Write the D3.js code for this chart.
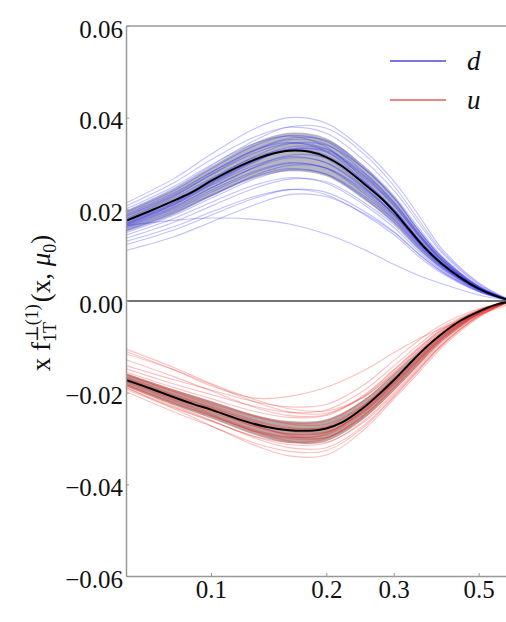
<!DOCTYPE html>
<html>
<head>
<meta charset="utf-8">
<script src="https://cdn.jsdelivr.net/npm/d3@7/dist/d3.min.js"></script>
<style>
  html, body { margin: 0; padding: 0; background: #fff; }
  svg { display: block; }
  text { font-family: "Liberation Serif", "DejaVu Serif", serif; fill: #111; white-space: pre; }
</style>
</head>
<body>
<svg id="chart" width="506" height="622"></svg>
<script>
// ---- data -------------------------------------------------------------
// x grid of the replica curves
const REP_X = [0.06, 0.08, 0.1, 0.13, 0.16, 0.2, 0.25, 0.3, 0.35, 0.4, 0.5, 0.6];

// d-quark replicas
const D_REPLICAS = [
  [.0214, .0267, .0320, .0376, .0400, .0388, .0330, .0262, .0185, .0115, .0040, .0003],
  [.0207, .0258, .0308, .0358, .0379, .0366, .0308, .0242, .0168, .0106, .0036, .0002],
  [.0196, .0246, .0295, .0350, .0380, .0377, .0322, .0252, .0175, .0110, .0038, .0003],
  [.0193, .0241, .0288, .0339, .0361, .0348, .0290, .0225, .0152, .0096, .0032, .0002],
  [.0186, .0233, .0280, .0330, .0355, .0350, .0295, .0230, .0158, .0099, .0033, .0002],
  [.0184, .0230, .0275, .0323, .0344, .0332, .0274, .0210, .0141, .0088, .0029, .0002],
  [.0179, .0224, .0268, .0313, .0330, .0311, .0251, .0190, .0126, .0080, .0026, .0002],
  [.0172, .0215, .0258, .0306, .0331, .0325, .0270, .0208, .0140, .0088, .0029, .0002],
  [.0168, .0212, .0256, .0305, .0329, .0318, .0262, .0201, .0134, .0084, .0028, .0002],
  [.0168, .0210, .0252, .0296, .0315, .0301, .0247, .0188, .0125, .0079, .0026, .0002],
  [.0165, .0206, .0247, .0291, .0312, .0302, .0249, .0191, .0127, .0080, .0026, .0002],
  [.0161, .0201, .0241, .0283, .0302, .0289, .0236, .0180, .0120, .0075, .0025, .0002],
  [.0158, .0197, .0237, .0280, .0300, .0290, .0240, .0184, .0123, .0078, .0026, .0002],
  [.0154, .0193, .0231, .0271, .0289, .0276, .0226, .0172, .0114, .0072, .0024, .0002],
  [.0149, .0187, .0224, .0266, .0286, .0277, .0230, .0177, .0118, .0075, .0025, .0002],
  [.0144, .0180, .0215, .0253, .0269, .0257, .0211, .0161, .0107, .0067, .0022, .0002],
  [.0137, .0172, .0207, .0246, .0266, .0260, .0216, .0167, .0111, .0070, .0023, .0002],
  [.0130, .0162, .0194, .0228, .0243, .0232, .0190, .0145, .0096, .0061, .0020, .0001],
  [.0123, .0155, .0187, .0224, .0243, .0237, .0197, .0152, .0102, .0065, .0022, .0002],
  [.0201, .0250, .0297, .0344, .0360, .0336, .0266, .0198, .0130, .0082, .0027, .0002],
  [.0166, .0210, .0254, .0303, .0331, .0328, .0275, .0213, .0143, .0090, .0030, .0002],
  [.0189, .0236, .0281, .0329, .0346, .0326, .0262, .0196, .0126, .0078, .0026, .0002],
  [.0110, .0140, .0172, .0210, .0232, .0228, .0192, .0150, .0101, .0064, .0021, .0001],
  [.0175, .0220, .0265, .0315, .0343, .0340, .0290, .0227, .0153, .0096, .0032, .0003],
  [.0180, .0228, .0276, .0328, .0352, .0342, .0282, .0216, .0145, .0091, .0030, .0002],
  [.0163, .0204, .0246, .0292, .0318, .0312, .0260, .0200, .0134, .0084, .0028, .0002],
  [.0152, .0190, .0229, .0274, .0296, .0290, .0244, .0189, .0128, .0081, .0027, .0002],
  [.0170, .0214, .0259, .0309, .0336, .0331, .0279, .0216, .0146, .0092, .0031, .0002],
  [.0165, .0176, .0181, .0178, .0168, .0146, .0113, .0080, .0055, .0038, .0013, .0001]
];

// u-quark replicas
const U_REPLICAS = [
  [-.0198, -.0242, -.0273, -.0310, -.0328, -.0326, -.0276, -.0210, -.0150, -.0098, -.0034, -.0002],
  [-.0189, -.0235, -.0272, -.0315, -.0338, -.0336, -.0282, -.0214, -.0155, -.0102, -.0036, -.0002],
  [-.0189, -.0231, -.0261, -.0296, -.0313, -.0310, -.0262, -.0200, -.0142, -.0092, -.0032, -.0002],
  [-.0182, -.0223, -.0251, -.0284, -.0300, -.0298, -.0250, -.0190, -.0134, -.0087, -.0030, -.0002],
  [-.0179, -.0218, -.0248, -.0285, -.0305, -.0308, -.0265, -.0204, -.0146, -.0096, -.0033, -.0002],
  [-.0175, -.0214, -.0242, -.0274, -.0290, -.0287, -.0240, -.0180, -.0126, -.0081, -.0027, -.0001],
  [-.0169, -.0206, -.0232, -.0263, -.0278, -.0274, -.0228, -.0170, -.0116, -.0074, -.0024, -.0001],
  [-.0165, -.0203, -.0231, -.0265, -.0284, -.0285, -.0242, -.0182, -.0128, -.0082, -.0028, -.0001],
  [-.0162, -.0197, -.0223, -.0252, -.0266, -.0262, -.0218, -.0160, -.0108, -.0068, -.0022, -.0001],
  [-.0158, -.0194, -.0220, -.0251, -.0268, -.0269, -.0228, -.0170, -.0117, -.0075, -.0025, -.0001],
  [-.0155, -.0189, -.0213, -.0241, -.0254, -.0250, -.0208, -.0152, -.0102, -.0064, -.0021, -.0001],
  [-.0148, -.0181, -.0204, -.0230, -.0243, -.0238, -.0196, -.0142, -.0094, -.0058, -.0019, -.0001],
  [-.0141, -.0172, -.0194, -.0220, -.0231, -.0226, -.0184, -.0130, -.0085, -.0052, -.0017, -.0001],
  [-.0105, -.0145, -.0180, -.0215, -.0235, -.0240, -.0210, -.0158, -.0108, -.0068, -.0022, -.0001],
  [-.0115, -.0150, -.0182, -.0220, -.0242, -.0245, -.0210, -.0156, -.0104, -.0065, -.0021, -.0001],
  [-.0128, -.0165, -.0196, -.0232, -.0250, -.0248, -.0206, -.0150, -.0100, -.0062, -.0020, -.0001],
  [-.0193, -.0233, -.0262, -.0295, -.0308, -.0300, -.0250, -.0188, -.0130, -.0084, -.0028, -.0001],
  [-.0186, -.0228, -.0260, -.0299, -.0320, -.0320, -.0272, -.0208, -.0148, -.0096, -.0033, -.0002],
  [-.0167, -.0205, -.0234, -.0271, -.0293, -.0298, -.0255, -.0195, -.0138, -.0089, -.0030, -.0002],
  [-.0170, -.0209, -.0238, -.0273, -.0290, -.0287, -.0240, -.0178, -.0122, -.0078, -.0026, -.0001],
  [-.0176, -.0216, -.0246, -.0281, -.0297, -.0292, -.0244, -.0183, -.0127, -.0082, -.0027, -.0001],
  [-.0160, -.0198, -.0227, -.0260, -.0276, -.0276, -.0235, -.0176, -.0122, -.0078, -.0026, -.0001],
  [-.0183, -.0222, -.0250, -.0283, -.0297, -.0290, -.0236, -.0172, -.0116, -.0074, -.0024, -.0001],
  [-.0110, -.0150, -.0185, -.0212, -.0208, -.0188, -.0152, -.0113, -.0082, -.0060, -.0030, -.0008]
];

// 68% bands
const D_BAND_UP = [.0196, .0245, .0293, .0345, .0367, .0355, .0295, .0228, .0154, .0097, .0032, .0002];
const D_BAND_LO = [.0152, .0190, .0228, .0268, .0283, .0272, .0222, .0169, .0112, .0071, .0023, .0002];
const U_BAND_UP = [-.0158, -.0193, -.0218, -.0248, -.0262, -.0258, -.0216, -.0160, -.0110, -.0070, -.0023, -.0001];
const U_BAND_LO = [-.0186, -.0227, -.0256, -.0292, -.0310, -.0306, -.0258, -.0196, -.0138, -.0089, -.0030, -.0002];

// central curves
const MEAN_X = [0.06, 0.07, 0.08, 0.09, 0.1, 0.12, 0.14, 0.16, 0.18, 0.2, 0.22, 0.25, 0.28, 0.3, 0.33, 0.36, 0.4, 0.45, 0.5, 0.55, 0.6];
const D_MEAN = [.0175, .0198, .0219, .0239, .0262, .0296, .0318, .0328, .0326, .0314, .0294, .0257, .0222, .0196, .0155, .0118, .0082, .0050, .0027, .0012, .0002];
const U_MEAN = [-.0172, -.0192, -.0210, -.0225, -.0237, -.0260, -.0275, -.0282, -.0283, -.0278, -.0265, -.0233, -.0197, -.0173, -.0137, -.0105, -.0072, -.0042, -.0023, -.0009, -.0001];

// axes
const X_TICKS = [0.1, 0.2, 0.3, 0.5];
const Y_TICKS = [-0.06, -0.04, -0.02, 0.00, 0.02, 0.04, 0.06];
const LEGEND = [{ label: "d", color: "#4b4bd6" }, { label: "u", color: "#e0605a" }];

// ---- layout -----------------------------------------------------------
const svg = d3.select("#chart");
const plot = { left: 126, top: 26, right: 509, bottom: 576 };

const x = d3.scaleLog().domain([0.06, 0.6]).range([plot.left, plot.right]);
const y = d3.scaleLinear().domain([-0.06, 0.06]).range([plot.bottom, plot.top]);

svg.append("defs").append("clipPath").attr("id", "plotclip")
  .append("rect")
  .attr("x", plot.left).attr("y", plot.top)
  .attr("width", plot.right - plot.left).attr("height", plot.bottom - plot.top);

const g = svg.append("g").attr("clip-path", "url(#plotclip)");

const curve = d3.curveCatmullRom.alpha(0.5);
const line = d3.line().curve(curve);
const pts = (xs, ys) => xs.map((v, i) => [x(v), y(ys[i])]);
const area = (xs, lo, hi) => d3.area().curve(curve)
  .x((d, i) => x(xs[i])).y0((d, i) => y(lo[i])).y1((d, i) => y(hi[i]))(xs);

function drawFlavour(reps, bandLo, bandUp, mean, color, bandColor) {
  g.append("path")
    .attr("d", area(REP_X, bandLo, bandUp))
    .attr("fill", bandColor)
    .attr("fill-opacity", 0.5);
  g.append("g").selectAll("path").data(reps).join("path")
    .attr("d", r => line(pts(REP_X, r)))
    .attr("fill", "none")
    .attr("stroke", color)
    .attr("stroke-width", 1.1)
    .attr("stroke-opacity", 0.28);
  g.append("path")
    .attr("d", line(pts(MEAN_X, mean)))
    .attr("fill", "none")
    .attr("stroke", "#000")
    .attr("stroke-width", 2);
}

drawFlavour(D_REPLICAS, D_BAND_LO, D_BAND_UP, D_MEAN, "#2020ff", "#6f6f86");
drawFlavour(U_REPLICAS, U_BAND_LO, U_BAND_UP, U_MEAN, "#e8241e", "#7a4a48");

// zero line
svg.append("line")
  .attr("x1", plot.left).attr("x2", 506)
  .attr("y1", y(0)).attr("y2", y(0))
  .attr("stroke", "#444").attr("stroke-width", 1.3);

// ---- axes -------------------------------------------------------------
const fmtY = v => (v < 0 ? "\u2212" : "") + Math.abs(v).toFixed(2);

const yAxis = svg.append("g")
  .attr("transform", `translate(${plot.left},0)`)
  .call(d3.axisLeft(y).tickValues(Y_TICKS).tickFormat(fmtY)
    .tickSizeInner(-3).tickSizeOuter(0).tickPadding(3));

const xAxis = svg.append("g")
  .attr("transform", `translate(0,${plot.bottom})`)
  .call(d3.axisBottom(x).tickValues(X_TICKS).tickFormat(d3.format(".1f"))
    .tickSizeInner(-3).tickSizeOuter(0).tickPadding(4));

[yAxis, xAxis].forEach(a => {
  a.attr("font-family", null);
  a.select(".domain").attr("stroke", "#999").attr("stroke-width", 1.5);
  a.selectAll(".tick line").attr("stroke", "#999");
  a.selectAll(".tick text")
    .style("font-size", "25px")
    .attr("fill", "#111");
});
yAxis.selectAll(".tick text").attr("dy", "0.45em");

// top spine
svg.append("line")
  .attr("x1", plot.left).attr("x2", 506)
  .attr("y1", plot.top).attr("y2", plot.top)
  .attr("stroke", "#999").attr("stroke-width", 1.5);

// ---- y label ----------------------------------------------------------
const lab = svg.append("g").attr("transform", "translate(50,303) rotate(-90)");
const inner = lab.append("g");
let cx = 0;
function piece(txt, size, dy, opts = {}) {
  const t = inner.append("text")
    .attr("x", cx).attr("y", dy)
    .style("font-size", size + "px")
    .style("font-style", opts.italic ? "italic" : "normal")
    .text(txt);
  const w = t.node().getComputedTextLength();
  if (!opts.noAdvance) cx += w;
  return w;
}
piece("x\u00a0", 27, 0);
piece("f", 27, 0);
const start = cx;
const wSup = piece("\u22a5(1)", 18, -12, { noAdvance: true });
cx = start;
const wSub = piece("1T", 18, 6, { noAdvance: true });
cx = start + Math.max(wSup, wSub) + 2;
piece("(x,\u00a0", 27, 0);
piece("\u03bc", 27, 0, { italic: true });
piece("0", 18, 6);
piece(")", 27, 0);
inner.attr("transform", `translate(${-cx / 2},0)`);

// ---- legend -----------------------------------------------------------
const leg = svg.append("g").selectAll("g").data(LEGEND).join("g")
  .attr("transform", (d, i) => `translate(390,${61 + i * 39})`);
leg.append("line")
  .attr("x1", 0).attr("x2", 56)
  .attr("stroke", d => d.color).attr("stroke-width", 1.6);
leg.append("text")
  .attr("x", 77).attr("y", 9)
  .style("font-size", "27px").style("font-style", "italic")
  .text(d => d.label);
</script>
</body>
</html>
